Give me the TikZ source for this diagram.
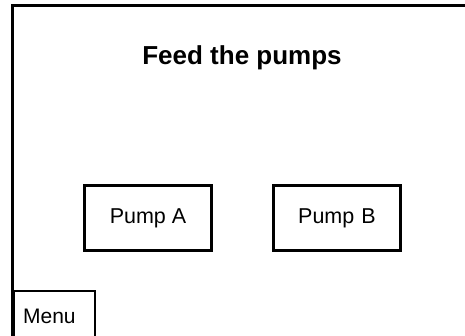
\documentclass[tikz,border=0pt]{standalone}
\usepackage{fontspec}
\setmainfont{Liberation Sans}
\usepackage{tikz}
\usetikzlibrary{positioning}
\tikzset{pumpbox/.style = {draw, line width = 2.2, minimum width = 127, minimum height = 65, inner sep = 0,
    font = \fontsize{21.5}{24}\selectfont}}
\tikzset{menubox/.style = {draw, line width = 2.2, minimum width = 81.5, minimum height = 50, inner sep = 0,
    font = \fontsize{21}{24}\selectfont}}

\begin{document}
\begin{tikzpicture}[x = 1pt, y = 1pt]
    \useasboundingbox (0, 0) rectangle (465, 336);
    \clip (0, 0) rectangle (465, 336);

    \draw [line width = 2.6] (12.5, -10) -- (12.5, 330.5) -- (475, 330.5);

    \node [font = \fontsize{26}{30}\selectfont\bfseries] (title) at (242, 278) {Feed the pumps};

    \node [pumpbox] (pumpA) at (148, 118) {Pump A};
    \node [pumpbox] (pumpB) at (337, 118) {Pump\,\,B};

    \node [menubox, anchor = north west] (menu) at (12.5, 46) {Menu\kern 10pt};
  \end{tikzpicture}
\end{document}
